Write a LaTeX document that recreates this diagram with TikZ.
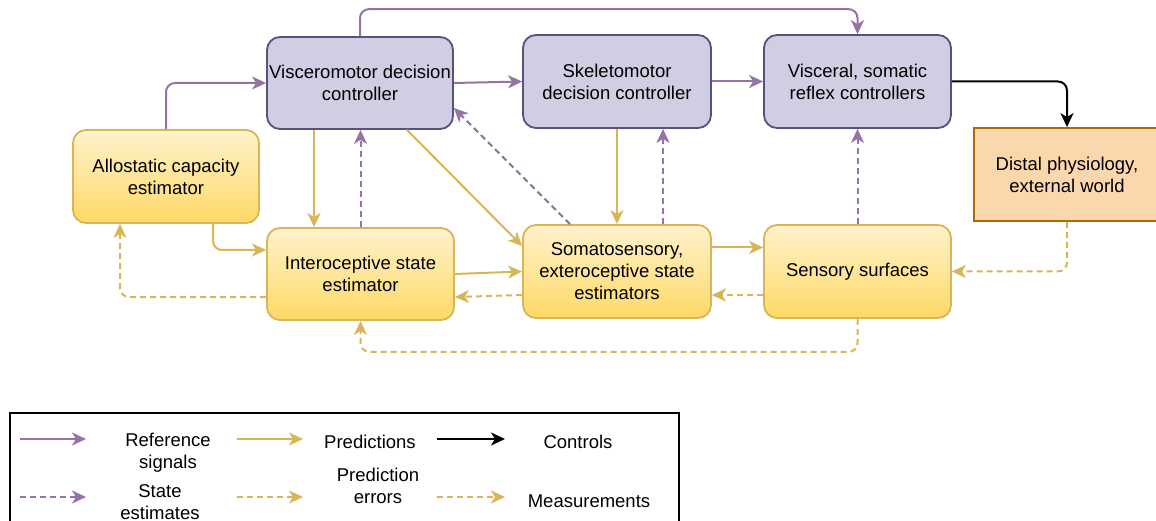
\documentclass[tikz,border=0pt]{standalone}
\usepackage{fontspec}
\setmainfont{Liberation Sans}
\usetikzlibrary{arrows.meta}
\definecolor{pfill}{HTML}{D0CEE2}
\definecolor{pdraw}{HTML}{56517E}
\definecolor{pedge}{HTML}{9673A6}
\definecolor{gtop}{HTML}{FFF2CC}
\definecolor{gbot}{HTML}{FFD966}
\definecolor{gdraw}{HTML}{D6B656}
\definecolor{ofill}{HTML}{FAD7AC}
\definecolor{odraw}{HTML}{B46504}
\tikzset{
  tip/.style={-{Stealth[length=14pt,width=13pt,inset=4pt]}},
  base/.style={align=center,inner sep=0pt,font=\fontsize{18.5}{22}\selectfont},
  pbox/.style={base,rounded corners=13pt,fill=pfill,draw=pdraw,line width=1.8pt},
  gbox/.style={base,rounded corners=13pt,top color=gtop,bottom color=gbot,draw=gdraw,line width=1.8pt},
  obox/.style={base,fill=ofill,draw=odraw,line width=1.8pt},
  refsig/.style={tip,draw=pedge,line width=2pt,rounded corners=9pt},
  statest/.style={refsig,dash pattern=on 6pt off 4pt},
  pred/.style={tip,draw=gdraw,line width=2pt,rounded corners=9pt},
  prederr/.style={pred,dash pattern=on 6pt off 4pt},
  ctrl/.style={tip,draw=black,line width=2pt,rounded corners=9pt},
  legtxt/.style={base},
}
\begin{document}
\begin{tikzpicture}[x=1pt,y=-1pt]
\useasboundingbox (0,0) rectangle (1156,521);
% nodes
\node[pbox,minimum width=186pt,minimum height=92pt] (VM) at (360,83) {Visceromotor decision\\controller};
\node[gbox,minimum width=186pt,minimum height=93pt] (AC) at (166,176.5) {Allostatic capacity\\estimator};
\node[gbox,minimum width=187pt,minimum height=92pt] (IS) at (360.5,274) {Interoceptive state\\estimator};
\node[pbox,minimum width=188pt,minimum height=93pt] (SK) at (617,81.5) {Skeletomotor\\decision controller};
\node[pbox,minimum width=187pt,minimum height=93pt] (VS) at (857.5,81.5) {Visceral, somatic\\reflex controllers};
\node[obox,minimum width=186pt,minimum height=93pt] (DP) at (1067,174.5) {Distal physiology,\\external world};
\node[gbox,minimum width=188pt,minimum height=93pt] (SS) at (617,271.5) {Somatosensory,\\exteroceptive state\\estimators};
\node[gbox,minimum width=187pt,minimum height=93pt] (SU) at (857.5,271.5) {Sensory surfaces};
% edges
\draw[refsig] (AC.north) |- (VM.west);
\draw[refsig] (VM.north) -- ++(0,-27) -| (VS.north);
\draw[refsig] (VM.east) -- (SK.west);
\draw[refsig] (SK.east) -- (VS.west);
\draw[ctrl] (VS.east) -| (DP.north);
\draw[pred] ([xshift=-46pt]VM.south) -- ([xshift=-46pt]VM.south |- IS.north);
\draw[statest] (IS.north) -- (IS.north |- VM.south);
\draw[pred] ([xshift=47pt]VM.south) -- ([yshift=25.5pt]SS.west);
\draw[statest] ([xshift=-47pt]SS.north) -- ([yshift=-25pt]VM.east);
\draw[pred] ([xshift=47pt]AC.south) |- ([yshift=24pt]IS.west);
\draw[prederr] ([yshift=-23pt]IS.west) -| ([xshift=-46pt]AC.south);
\draw[pred] (IS.east) -- (SS.west);
\draw[prederr] ([yshift=-23.5pt]SS.west) -- ([yshift=-23pt]IS.east);
\draw[pred] (SK.south) -- (SS.north);
\draw[statest] ([xshift=46pt]SS.north) -- ([xshift=46pt]SK.south);
\draw[pred] ([yshift=24pt]SS.east) -- ([yshift=24pt]SU.west);
\draw[prederr] ([yshift=-23.5pt]SU.west) -- ([yshift=-23.5pt]SS.east);
\draw[statest] (SU.north) -- (VS.south);
\draw[prederr] (DP.south) |- (SU.east);
\draw[prederr] (SU.south) -- ++(0,33) -| (IS.south);
% legend
\draw[line width=1.8pt] (10,530) -- (10,413) -- (679,413) -- (679,530);
\coordinate (a1) at (20,439); \coordinate (b1) at (86,439);
\coordinate (a2) at (237,439); \coordinate (b2) at (303,439);
\coordinate (a3) at (437,439); \coordinate (b3) at (505,439);
\coordinate (a4) at (20,497); \coordinate (b4) at (86,497);
\coordinate (a5) at (237,497); \coordinate (b5) at (303,497);
\coordinate (a6) at (437,497); \coordinate (b6) at (505,497);
\draw[refsig] (a1) -- (b1);
\draw[pred] (a2) -- (b2);
\draw[ctrl] (a3) -- (b3);
\draw[statest] (a4) -- (b4);
\draw[prederr] (a5) -- (b5);
\draw[prederr] (a6) -- (b6);
\node[legtxt] (t1) at (168,453) {Reference\\signals};
\node[legtxt] (t2) at (370,442) {Predictions};
\node[legtxt] (t3) at (578,442) {Controls};
\node[legtxt] (t4) at (160,502) {State\\estimates};
\node[legtxt] (t5) at (378,486) {Prediction\\errors};
\node[legtxt] (t6) at (589,501) {Measurements};
\end{tikzpicture}
\end{document}
